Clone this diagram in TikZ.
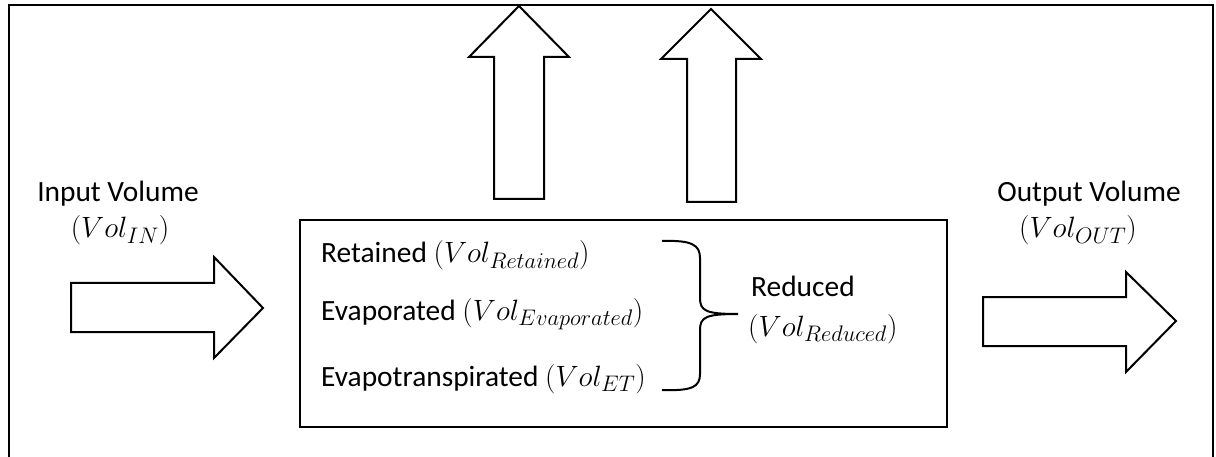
\RequirePackage{fix-cm}
\documentclass[tikz,border=0pt]{standalone}
\usepackage{fontspec}
\setmainfont{Carlito}
\DeclareMathSizes{29.4}{29.4}{22.5}{17}
\begin{document}
\begin{tikzpicture}[x=1pt,y=-1pt,
  line/.style={line width=2pt, line join=miter},
  blockarrow/.style={line width=2pt, fill=white, line join=miter},
  lbl/.style={inner sep=0pt, font=\fontsize{29.4}{36}\selectfont}
]
\useasboundingbox (0,0) rectangle (1216,457);
% outer frame (open at the bottom)
\draw[line] (9,457) -- (9,5) -- (1213,5) -- (1213,457);
% main box
\node[draw, line width=2pt, minimum width=647pt, minimum height=207pt, anchor=north west, inner sep=0pt] (box) at (299,219) {};
% up arrows
\draw[blockarrow] (494,199) -- (494,57) -- (469,57) -- (519,6) -- (569,57) -- (544,57) -- (544,199) -- cycle;
\draw[blockarrow] (687,202) -- (687,59) -- (661,59) -- (711,9) -- (761,59) -- (736,59) -- (736,202) -- cycle;
% input arrow
\draw[blockarrow] (71,283) -- (214,283) -- (214,257) -- (263,308) -- (214,358) -- (214,332) -- (71,332) -- cycle;
% output arrow
\draw[blockarrow] (983,297) -- (1126,297) -- (1126,272) -- (1176,321) -- (1126,372) -- (1126,346) -- (983,346) -- cycle;
% labels
\node[lbl, anchor=base] (in1) at (118,202) {Input Volume};
\node[lbl, anchor=base] (in2) at (120,238) {$(Vol_{IN})$};
\node[lbl, anchor=base] (out1) at (1089,202) {Output Volume};
\node[lbl, anchor=base] (out2) at (1078,238) {$(Vol_{OUT})$};
\node[lbl, anchor=base west] (ret) at (321,263) {Retained $(Vol_{Retained})$};
\node[lbl, anchor=base west] (eva) at (321,320) {Evaporated $(Vol_{Evaporated})$};
\node[lbl, anchor=base west] (et) at (321,386) {Evapotranspirated $(Vol_{ET})$};
\node[lbl, anchor=base west] (red1) at (751,296) {Reduced};
\node[lbl, anchor=base west] (red2) at (748,336) {$(Vol_{Reduced})$};
% brace
\coordinate (btop) at (662,241);
\coordinate (btip) at (738,314);
\coordinate (bbot) at (662,390);
\draw[line width=2pt] (btop) .. controls (692,240) and (700,245) .. (700,258) -- (700,298)
  .. controls (700,311) and (706,314) .. (btip)
  .. controls (706,314) and (700,317) .. (700,330) -- (700,374)
  .. controls (700,387) and (692,391) .. (bbot);
\end{tikzpicture}
\end{document}
